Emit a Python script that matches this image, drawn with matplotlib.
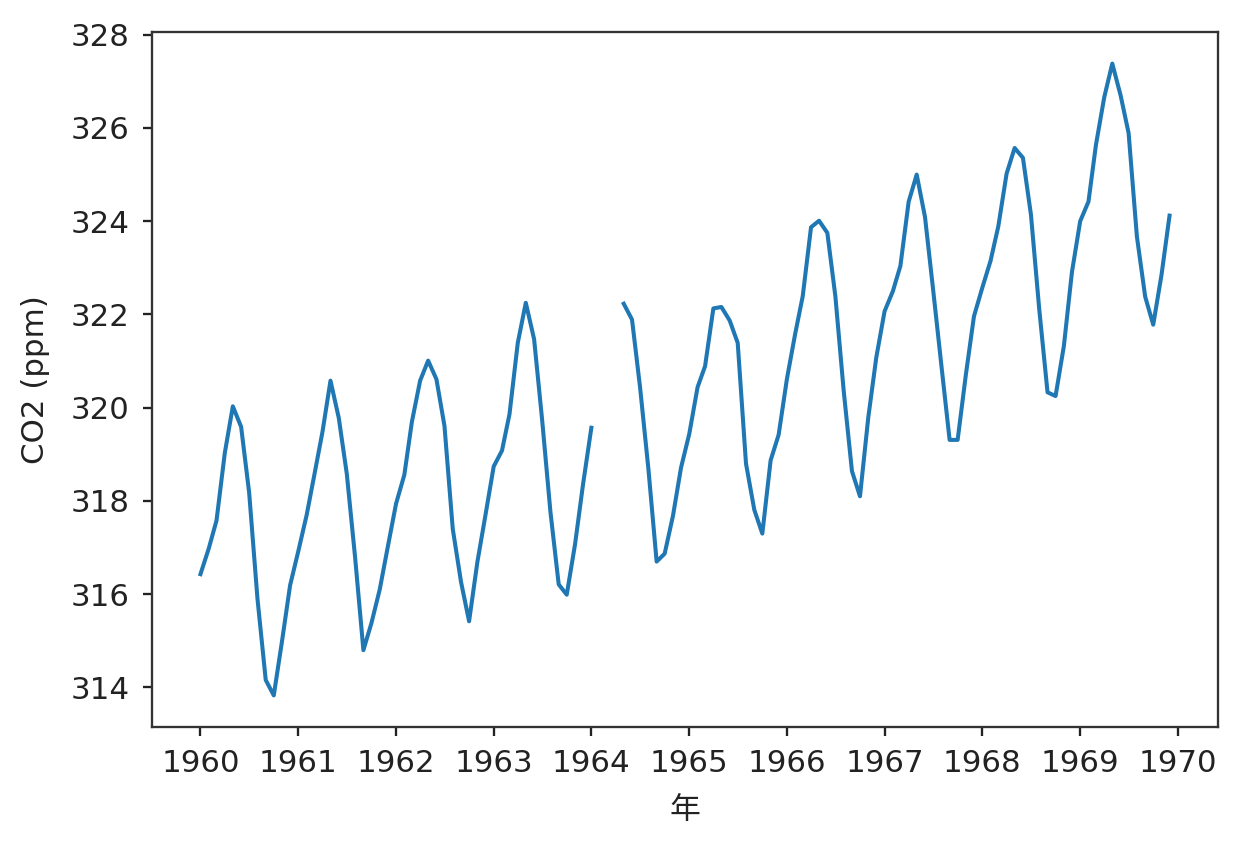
import matplotlib
matplotlib.use('Agg')
import matplotlib.pyplot as plt
import matplotlib.dates as mdates
import numpy as np
import pandas as pd

plt.rcParams['font.family'] = ['DejaVu Sans', 'Noto Sans CJK JP']
plt.rcParams['font.size'] = 10.7
plt.rcParams['text.color'] = '#222222'
plt.rcParams['xtick.color'] = '#222222'
plt.rcParams['ytick.color'] = '#222222'
plt.rcParams['axes.labelcolor'] = '#222222'

# monthly mean CO2 (ppm), 1960-01 .. 1969-12, Feb-Apr 1964 missing
co2_1960 = [316.43, 316.98, 317.58, 319.03, 320.03, 319.59, 318.18, 315.91, 314.16, 313.83, 315.00, 316.19]
co2_1961 = [316.93, 317.70, 318.54, 319.48, 320.58, 319.78, 318.58, 316.79, 314.80, 315.38, 316.10, 317.01]
co2_1962 = [317.94, 318.56, 319.69, 320.58, 321.01, 320.61, 319.61, 317.40, 316.26, 315.42, 316.69, 317.69]
co2_1963 = [318.74, 319.08, 319.86, 321.39, 322.25, 321.47, 319.74, 317.77, 316.21, 315.99, 317.07, 318.36]
co2_1964 = [319.57, np.nan, np.nan, np.nan, 322.23, 321.89, 320.44, 318.70, 316.70, 316.87, 317.68, 318.71]
co2_1965 = [319.44, 320.44, 320.89, 322.13, 322.16, 321.87, 321.39, 318.80, 317.81, 317.30, 318.87, 319.42]
co2_1966 = [320.62, 321.59, 322.39, 323.87, 324.01, 323.75, 322.39, 320.37, 318.64, 318.10, 319.79, 321.08]
co2_1967 = [322.07, 322.50, 323.04, 324.42, 325.00, 324.09, 322.55, 320.92, 319.31, 319.31, 320.72, 321.96]
co2_1968 = [322.57, 323.15, 323.89, 325.02, 325.57, 325.36, 324.14, 322.11, 320.33, 320.25, 321.32, 322.90]
co2_1969 = [324.00, 324.42, 325.64, 326.66, 327.38, 326.70, 325.89, 323.67, 322.38, 321.78, 322.85, 324.12]

values = co2_1960 + co2_1961 + co2_1962 + co2_1963 + co2_1964 + co2_1965 + co2_1966 + co2_1967 + co2_1968 + co2_1969
dates = pd.date_range('1960-01-01', periods=len(values), freq='MS')

fig = plt.figure(figsize=(1249/208, 848/208), dpi=208)
ax = fig.add_axes([152/1249, 1-727/848, (1218-152)/1249, (727-32)/848])
ax.plot(dates, values, lw=1.4)
ax.xaxis.set_major_locator(mdates.YearLocator())
ax.xaxis.set_major_formatter(mdates.DateFormatter('%Y'))
ax.tick_params(length=3.2, pad=4.5)
for s in ax.spines.values():
    s.set_color('#333333')
ax.set_xlabel('年', labelpad=6)
ax.set_ylabel('CO2 (ppm)', labelpad=7)

fig.savefig('out.png', dpi=208)
